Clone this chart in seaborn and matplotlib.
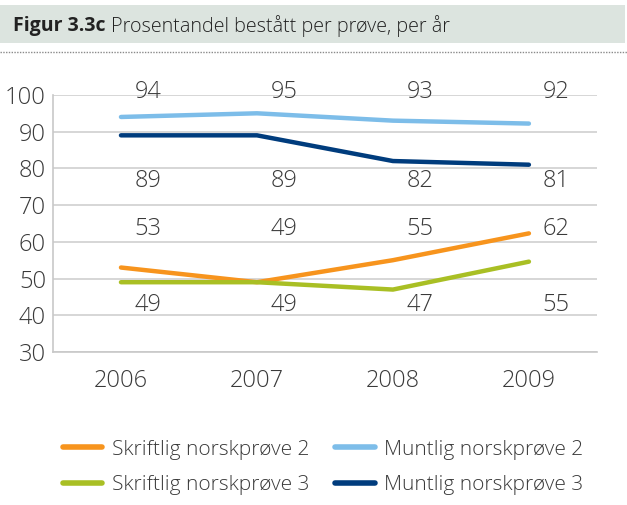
import pandas as pd
import matplotlib.pyplot as plt
import matplotlib.lines as mlines
import matplotlib.patches as mpatches
import seaborn as sns

# === Data ===
years = ["2006", "2007", "2008", "2009"]
skriftlig_2 = [53, 49, 55, 62.3]
muntlig_2 = [94, 95, 93, 92.2]
skriftlig_3 = [49, 49, 47, 54.6]
muntlig_3 = [89, 89, 82, 81]
labels_skriftlig_2 = [53, 49, 55, 62]
labels_muntlig_2 = [94, 95, 93, 92]
labels_skriftlig_3 = [49, 49, 47, 55]
labels_muntlig_3 = [89, 89, 82, 81]

series = {
    "Skriftlig norskprøve 2": skriftlig_2,
    "Muntlig norskprøve 2": muntlig_2,
    "Skriftlig norskprøve 3": skriftlig_3,
    "Muntlig norskprøve 3": muntlig_3,
}
colors = {
    "Skriftlig norskprøve 2": "#f7941d",
    "Muntlig norskprøve 2": "#7dbde9",
    "Skriftlig norskprøve 3": "#a9bf24",
    "Muntlig norskprøve 3": "#003c7d",
}

df = pd.DataFrame(
    [(y, name, v) for name, vals in series.items() for y, v in zip(years, vals)],
    columns=["År", "Prøve", "Prosent"],
)

# === Setup ===
sns.set_style("white")
plt.rcParams["font.family"] = ["Open Sans", "DejaVu Sans"]
text_col = "#3a3a3a"

fig = plt.figure(figsize=(6.27, 5.05), dpi=100)
ax = fig.add_axes([0.0845, 0.303, 0.8675, 0.509])

sns.lineplot(data=df, x="År", y="Prosent", hue="Prøve", palette=colors,
             linewidth=3.2, sort=False, legend=False, ax=ax)
for ln in ax.get_lines():
    ln.set_solid_capstyle("round")

ax.set_xlim(-0.5, 3.5)
ax.set_ylim(30, 100)
ax.set_yticks(range(30, 101, 10))
ax.yaxis.grid(True, color="#d0d0d0", linewidth=1.2)
ax.set_xlabel("")
ax.set_ylabel("")
for s in ["top", "right"]:
    ax.spines[s].set_visible(False)
for s in ["left", "bottom"]:
    ax.spines[s].set_color("#c8c8c8")
    ax.spines[s].set_linewidth(1.2)

ax.set_xticks([-0.5, 0.5, 1.5, 2.5, 3.5])
ax.set_xticklabels([])
ax.set_xticks(range(4), minor=True)
ax.set_xticklabels(years, minor=True)
ax.tick_params(axis="x", which="major", length=5, color="#c8c8c8", width=1.2)
ax.tick_params(axis="x", which="minor", length=0, pad=12, labelsize=17, labelcolor=text_col)
ax.tick_params(axis="y", length=4, color="#c8c8c8", width=1.2, pad=1,
               labelsize=17, labelcolor=text_col)
for lab in ax.get_yticklabels() + ax.get_xticklabels(minor=True):
    lab.set_fontweight("light")

# data labels at fixed rows
label_rows = [
    (labels_muntlig_2, 100.9),
    (labels_muntlig_3, 76.6),
    (labels_skriftlig_2, 63.5),
    (labels_skriftlig_3, 42.8),
]
for vals, ypos in label_rows:
    for i, v in enumerate(vals):
        ax.text(i + 0.2, ypos, str(v), ha="center", va="center", fontsize=17,
                color=text_col, fontweight="light", clip_on=False)

# === Title bar ===
fig.patches.append(mpatches.Rectangle((0, 0.915), 0.997, 0.075, transform=fig.transFigure,
                                      facecolor="#dce4df", edgecolor="none"))
fig.lines.append(mlines.Line2D([0, 1], [0.897, 0.897], transform=fig.transFigure,
                               color="#8a8a8a", linestyle=(0, (1, 1)), linewidth=1))
fig.text(0.02, 0.949, "Figur 3.3c", fontsize=14, fontweight="bold", color="#222222",
         va="center", ha="left")
fig.text(0.177, 0.949, "Prosentandel bestått per prøve, per år", fontsize=14.2,
         fontweight="light", color="#222222", va="center", ha="left")

# === Legend (row-major order) ===
order = ["Skriftlig norskprøve 2", "Skriftlig norskprøve 3",
         "Muntlig norskprøve 2", "Muntlig norskprøve 3"]
handles = [mlines.Line2D([], [], color=colors[n], linewidth=4, solid_capstyle="round")
           for n in order]
leg = fig.legend(handles, order, loc="center", ncol=2,
                 bbox_to_anchor=(0.515, 0.0745), frameon=False, fontsize=15,
                 handlelength=1.9, columnspacing=1.25, handletextpad=0.45,
                 labelspacing=0.75)
for t in leg.get_texts():
    t.set_color(text_col)
    t.set_fontweight("light")

plt.savefig("out.png", dpi=100)
plt.close()
